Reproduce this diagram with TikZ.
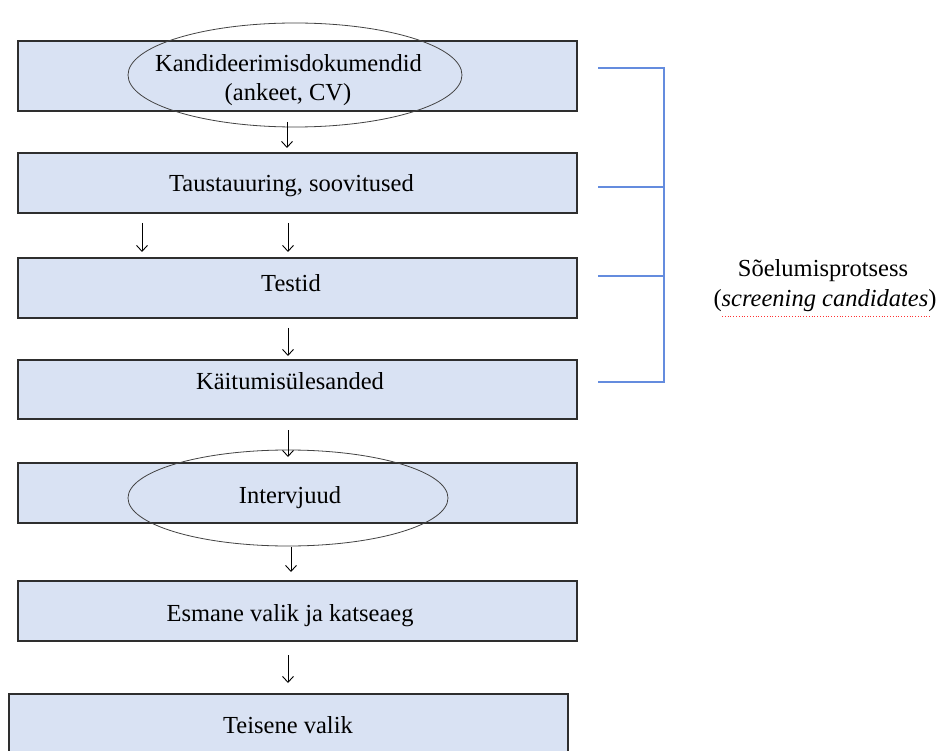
\documentclass[tikz,border=0pt]{standalone}
\usepackage{fontspec}
\setmainfont{Liberation Serif}
\usetikzlibrary{shapes.geometric,arrows.meta}
\definecolor{boxfill}{HTML}{D9E2F3}
\definecolor{boxline}{HTML}{2E2E2E}
\definecolor{brace}{RGB}{100,140,222}
\tikzset{
  stepbox/.style={draw=boxline, line width=1.2pt, fill=boxfill, rectangle, inner sep=0pt, outer sep=0pt, minimum width=559pt, anchor=north west},
  oval/.style={draw=boxline!90, line width=0.8pt, ellipse, inner sep=0pt, outer sep=0pt},
  lbl/.style={anchor=base, inner sep=0pt, font=\fontsize{24.5}{30}\selectfont},
  arr/.style={draw=black, line width=0.9pt, -{Straight Barb[length=6pt,width=11pt,line width=0.9pt]}},
  bline/.style={draw=brace, line width=1.2pt},
}
\begin{document}
\begin{tikzpicture}[x=1pt,y=-1pt]
\clip (0,0) rectangle (940,751);
\fill[white] (0,0) rectangle (940,751);
% columns for arrows
\coordinate (ax) at (288,0);
\coordinate (ax1) at (287,0);
\coordinate (ax2) at (291,0);
\coordinate (axl) at (142,0);
% boxes
\node[stepbox, minimum height=70pt] (b1) at (18,41) {};
\node[stepbox, minimum height=60pt] (b2) at (18,153) {};
\node[stepbox, minimum height=60pt] (b3) at (18,258) {};
\node[stepbox, minimum height=59pt] (b4) at (18,360) {};
\node[stepbox, minimum height=60pt] (b5) at (18,463) {};
\node[stepbox, minimum height=60pt] (b6) at (18,581) {};
\node[stepbox, minimum height=75pt] (b7) at (9,694) {};
% ellipses
\node[oval, minimum width=334pt, minimum height=104pt] (e1) at (295,75) {};
\node[oval, minimum width=320pt, minimum height=96pt] (e5) at (288,498) {};
% texts
\node[lbl] (t1a) at (288.5,72) {Kandideerimisdokumendid};
\node[lbl] (t1b) at (288,101) {(ankeet, CV)};
\node[lbl] (t2) at (291.5,192) {Taustauuring, soovitused};
\node[lbl] (t3) at (291,292) {Testid};
\node[lbl] (t4) at (290,389) {Käitumisülesanded};
\node[lbl] (t5) at (290,503) {Intervjuud};
\node[lbl] (t6) at (290,621) {Esmane valik ja katseaeg};
\node[lbl] (t7) at (288,733) {Teisene valik};
% arrows
\draw[arr, shorten <=11pt, shorten >=5pt] (b1.south -| ax1) -- (b2.north -| ax1);
\draw[arr, shorten <=10pt, shorten >=6pt] (b2.south -| axl) -- (b3.north -| axl);
\draw[arr, shorten <=10pt, shorten >=6pt] (b2.south -| ax) -- (b3.north -| ax);
\draw[arr, shorten <=10pt, shorten >=4pt] (b3.south -| ax) -- (b4.north -| ax);
\draw[arr, shorten <=11pt, shorten >=6pt] (b4.south -| ax) -- (b5.north -| ax);
\draw[arr, shorten <=1pt, shorten >=9pt] (e5.south -| ax2) -- (b6.north -| ax2);
\draw[arr, shorten <=14pt, shorten >=11pt] (b6.south -| ax) -- (b7.north -| ax);
% bracket
\coordinate (k1) at (598,68);
\coordinate (k2) at (598,187);
\coordinate (k3) at (598,276);
\coordinate (k4) at (598,382);
\coordinate (kv) at (664,0);
\draw[bline] (k1) -- (k1 -| kv) -- (k4 -| kv) -- (k4);
\draw[bline] (k2) -- (k2 -| kv);
\draw[bline] (k3) -- (k3 -| kv);
% side label
\node[lbl] (s1) at (823,277) {Sõelumisprotsess};
\node[lbl] (s2) at (825,307) {(\textit{screening candidates})};
\coordinate (u1) at (722,316);
\coordinate (u2) at (931,316);
\draw[red!80, dotted, line width=0.8pt] (u1) -- (u2);
\end{tikzpicture}
\end{document}
